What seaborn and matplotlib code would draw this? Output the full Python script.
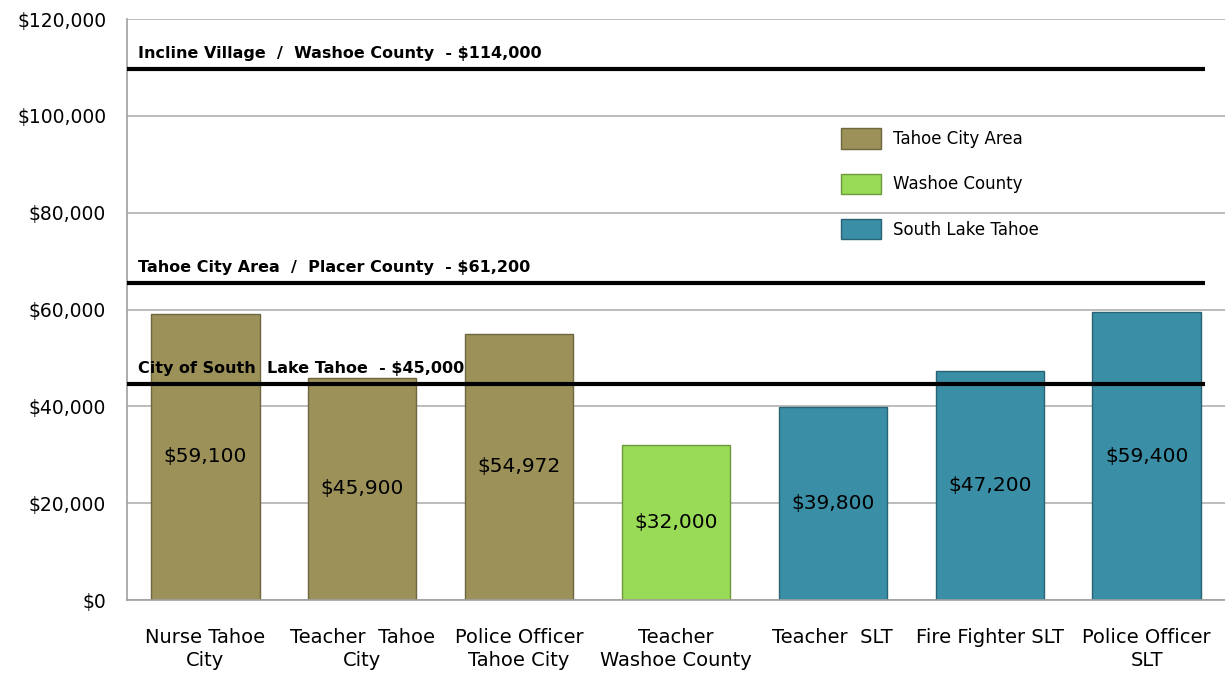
import matplotlib
matplotlib.use("Agg")
import matplotlib.pyplot as plt
import matplotlib.ticker as mticker
import seaborn as sns
import pandas as pd

categories = ["Nurse Tahoe\nCity", "Teacher  Tahoe\nCity", "Police Officer\nTahoe City",
              "Teacher\nWashoe County", "Teacher  SLT", "Fire Fighter SLT", "Police Officer\nSLT"]
salaries = [59100, 45900, 54972, 32000, 39800, 47200, 59400]
salary_labels = ["$59,100", "$45,900", "$54,972", "$32,000", "$39,800", "$47,200", "$59,400"]
regions = ["Tahoe City Area", "Tahoe City Area", "Tahoe City Area", "Washoe County",
           "South Lake Tahoe", "South Lake Tahoe", "South Lake Tahoe"]
region_colors = {"Tahoe City Area": "#9c9159", "Washoe County": "#99da56",
                 "South Lake Tahoe": "#3a8ea6"}

# reference lines (drawn level as in the picture) and their captions
ref_levels = [109700, 65500, 44600]
ref_labels = ["Incline Village  /  Washoe County  - $114,000",
              "Tahoe City Area  /  Placer County  - $61,200",
              "City of South  Lake Tahoe  - $45,000"]

df = pd.DataFrame({"job": categories, "salary": salaries, "region": regions})

sns.set_style("white")
plt.rcParams["font.family"] = ["DejaVu Sans"]
plt.rcParams["text.color"] = "black"
plt.rcParams["xtick.color"] = "black"
plt.rcParams["ytick.color"] = "black"

fig = plt.figure(figsize=(12.25, 6.77), dpi=100)
ax = fig.add_axes([0.1037, 0.1137, 0.8963, 0.8582])

sns.barplot(data=df, x="job", y="salary", hue="region", palette=region_colors,
            saturation=1, dodge=False, width=0.69, ax=ax, linewidth=1.0,
            legend=True, zorder=2)

# darker outline to hint at the bevelled bars
for bar in ax.patches:
    fc = bar.get_facecolor()
    bar.set_edgecolor((fc[0] * 0.7, fc[1] * 0.7, fc[2] * 0.7, 1))

for i, (v, lab) in enumerate(zip(salaries, salary_labels)):
    ax.text(i, v / 2, lab, ha="center", va="center", fontsize=14.5, color="black", zorder=4)

for lvl, lab in zip(ref_levels, ref_labels):
    ax.plot([-0.5, 6.37], [lvl, lvl], color="black", linewidth=3, zorder=3,
            solid_capstyle="butt")
    ax.text(-0.43, lvl + 1700, lab, fontsize=11.5, fontweight="bold", ha="left",
            va="bottom", zorder=5)

ax.set_xlim(-0.5, 6.5)
ax.set_ylim(0, 120000)
ax.yaxis.set_major_locator(mticker.MultipleLocator(20000))
ax.yaxis.set_major_formatter(mticker.FuncFormatter(lambda v, p: f"${v:,.0f}"))
ax.yaxis.grid(True, color="#b0b0b0", linewidth=1.2, zorder=0)
ax.set_axisbelow(True)
ax.set_xlabel("")
ax.set_ylabel("")

ax.set_xticks(range(len(categories)))
ax.set_xticklabels(categories, fontsize=14, linespacing=1.3)
ax.set_xticks([i - 0.5 for i in range(len(categories) + 1)], minor=True)
ax.tick_params(axis="x", which="major", length=0, pad=20)
ax.tick_params(axis="x", which="minor", length=7, color="#a0a0a0", width=1.2)
ax.tick_params(axis="y", length=7, color="#a0a0a0", width=1.2, labelsize=13.5, pad=8)

for s in ["top", "right"]:
    ax.spines[s].set_visible(False)
for s in ["left", "bottom"]:
    ax.spines[s].set_color("#a0a0a0")
    ax.spines[s].set_linewidth(1.2)

leg = ax.legend(loc="upper left", bbox_to_anchor=(0.64, 0.832), frameon=False,
                fontsize=12, handlelength=2.4, handleheight=1.5, labelspacing=1.5,
                borderpad=0.2, handletextpad=0.7)
for h in leg.legend_handles:
    fc = h.get_facecolor()
    h.set_edgecolor((fc[0] * 0.7, fc[1] * 0.7, fc[2] * 0.7, 1))

fig.savefig("out.png", dpi=100)
